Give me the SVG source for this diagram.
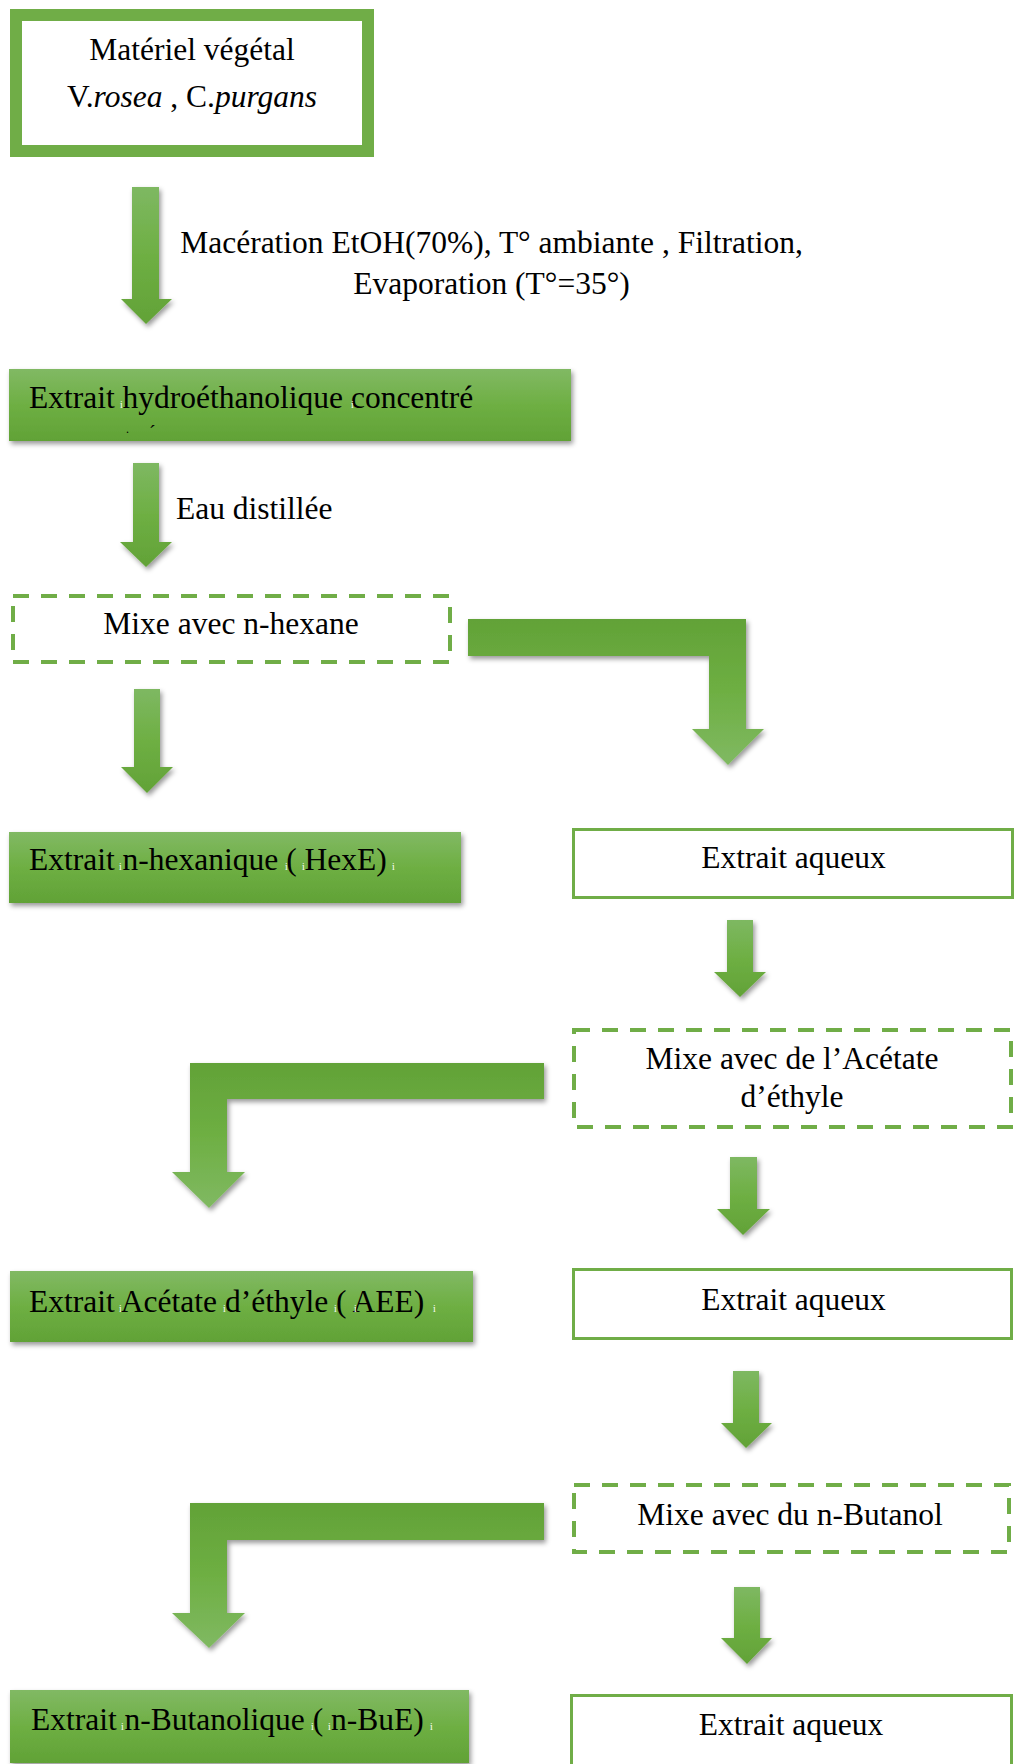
<svg xmlns="http://www.w3.org/2000/svg" width="1016" height="1764" viewBox="0 0 1016 1764">
  <defs>
    <linearGradient id="boxFill" x1="0" y1="0" x2="0" y2="1">
      <stop offset="0" stop-color="#81B964"/>
      <stop offset="0.5" stop-color="#6EAF43"/>
      <stop offset="1" stop-color="#61A236"/>
    </linearGradient>
    <linearGradient id="arrowDown" x1="0" y1="0" x2="0" y2="1">
      <stop offset="0" stop-color="#7EB862"/>
      <stop offset="0.5" stop-color="#6EAF43"/>
      <stop offset="1" stop-color="#62A237"/>
    </linearGradient>
    <linearGradient id="arrowElbow" x1="0" y1="0" x2="0" y2="1">
      <stop offset="0" stop-color="#62A237"/>
      <stop offset="0.5" stop-color="#6EAF43"/>
      <stop offset="1" stop-color="#80B962"/>
    </linearGradient>
    <filter id="shadow" x="-10%" y="-20%" width="125%" height="150%">
      <feDropShadow dx="2" dy="3" stdDeviation="2.5" flood-color="#000" flood-opacity="0.4"/>
    </filter>
  </defs>
  <style>
    text { font-family: "Liberation Serif", "Times New Roman", serif; font-size: 31.5px; fill: #000; }
    .mid { text-anchor: middle; }
    .it { font-style: italic; }
    .gap { font-size: 10px; fill: #fff; }
    .frame { fill: #fff; stroke: #70AD47; stroke-width: 12; }
    .solid { fill: #fff; stroke: #70AD47; stroke-width: 3; }
    .dash { fill: #fff; stroke: #70AD47; stroke-width: 4; stroke-dasharray: 16 12; }
    .filled { fill: url(#boxFill); filter: url(#shadow); }
    .down { fill: url(#arrowDown); filter: url(#shadow); }
    .elbow { fill: url(#arrowElbow); filter: url(#shadow); }
  </style>

  <!-- connectors -->
  <g id="connectors">
    <polygon class="down" points="132,187 159,187 159,299 172,299 146,324 121,299 132,299"/>
    <polygon class="down" points="133,463 159,463 159,542 172,542 146,567 120,542 133,542"/>
    <polygon class="down" points="134,689 160,689 160,767 173,767 147,793 121,767 134,767"/>
    <polygon class="elbow" points="468,619 746,619 746,729 764,729 728,765 692,729 709,729 709,656 468,656"/>
    <polygon class="down" points="727,920 753,920 753,972 766,972 740,997 714,972 727,972"/>
    <polygon class="elbow" points="544,1063 544,1099 227,1099 227,1172 245,1172 209,1208 172,1172 190,1172 190,1063"/>
    <polygon class="down" points="730,1157 757,1157 757,1209 770,1209 743,1235 717,1209 730,1209"/>
    <polygon class="down" points="733,1371 759,1371 759,1423 772,1423 746,1448 721,1423 733,1423"/>
    <polygon class="elbow" points="544,1503 544,1540 227,1540 227,1613 245,1613 209,1648 172,1613 190,1613 190,1503"/>
    <polygon class="down" points="734,1587 760,1587 760,1638 772,1638 747,1664 721,1638 734,1638"/>
  </g>

  <!-- step labels on the connectors -->
  <g id="label-maceration">
    <text class="mid" x="491.5" y="253">Macération EtOH(70%), T° ambiante , Filtration,</text>
    <text class="mid" x="491.5" y="294">Evaporation (T°=35°)</text>
  </g>
  <g id="label-eau">
    <text x="176" y="519">Eau distillée</text>
  </g>

  <!-- nodes -->
  <g id="node-materiel">
    <rect class="frame" x="16" y="15" width="352" height="136"/>
    <text class="mid" x="192" y="60">Matériel végétal</text>
    <text class="mid" x="192" y="107">V.<tspan class="it">rosea</tspan> , C.<tspan class="it">purgans</tspan></text>
  </g>

  <g id="node-hydroethanolique">
    <rect class="filled" x="9" y="369" width="562" height="72"/>
    <text x="29" y="408">Extrait hydroéthanolique concentré</text>
    <text class="gap" x="120" y="408">i</text>
    <text class="gap" x="351" y="408">i</text>
    <text x="126" y="433" style="font-size:12px">.</text>
    <text x="149" y="440" style="font-size:20px">´</text>
  </g>

  <g id="node-mix-hexane">
    <rect class="dash" x="13" y="596" width="437" height="66"/>
    <text class="mid" x="231" y="634">Mixe avec n-hexane</text>
  </g>

  <g id="node-hexe">
    <rect class="filled" x="9" y="832" width="452" height="71"/>
    <text x="29" y="870">Extrait n-hexanique ( HexE)</text>
    <text class="gap" x="119" y="870">i</text>
    <text class="gap" x="285" y="870">i</text>
    <text class="gap" x="302" y="870">i</text>
    <text class="gap" x="392" y="870">i</text>
  </g>

  <g id="node-aqueux-1">
    <rect class="solid" x="573.5" y="829.5" width="439" height="68"/>
    <text class="mid" x="793.5" y="868">Extrait aqueux</text>
  </g>

  <g id="node-mix-acetate">
    <rect class="dash" x="574" y="1030" width="437" height="97"/>
    <text class="mid" x="792" y="1069">Mixe avec de l’Acétate</text>
    <text class="mid" x="792" y="1107">d’éthyle</text>
  </g>

  <g id="node-aee">
    <rect class="filled" x="10" y="1271" width="463" height="71"/>
    <text x="29" y="1312">Extrait Acétate d’éthyle ( AEE)</text>
    <text class="gap" x="119" y="1312">i</text>
    <text class="gap" x="223" y="1312">i</text>
    <text class="gap" x="334" y="1312">i</text>
    <text class="gap" x="354" y="1312">i</text>
    <text class="gap" x="433" y="1312">i</text>
  </g>

  <g id="node-aqueux-2">
    <rect class="solid" x="573.5" y="1269.5" width="438" height="69"/>
    <text class="mid" x="793.5" y="1310">Extrait aqueux</text>
  </g>

  <g id="node-mix-butanol">
    <rect class="dash" x="574" y="1485" width="435" height="67"/>
    <text class="mid" x="790" y="1525">Mixe avec du n-Butanol</text>
  </g>

  <g id="node-nbue">
    <rect class="filled" x="10" y="1690" width="459" height="73"/>
    <text x="31" y="1730">Extrait n-Butanolique ( n-BuE)</text>
    <text class="gap" x="121" y="1730">i</text>
    <text class="gap" x="311" y="1730">i</text>
    <text class="gap" x="328" y="1730">i</text>
    <text class="gap" x="430" y="1730">i</text>
  </g>

  <g id="node-aqueux-3">
    <rect class="solid" x="571.5" y="1695.5" width="440" height="80"/>
    <text class="mid" x="791" y="1735">Extrait aqueux</text>
  </g>
</svg>
